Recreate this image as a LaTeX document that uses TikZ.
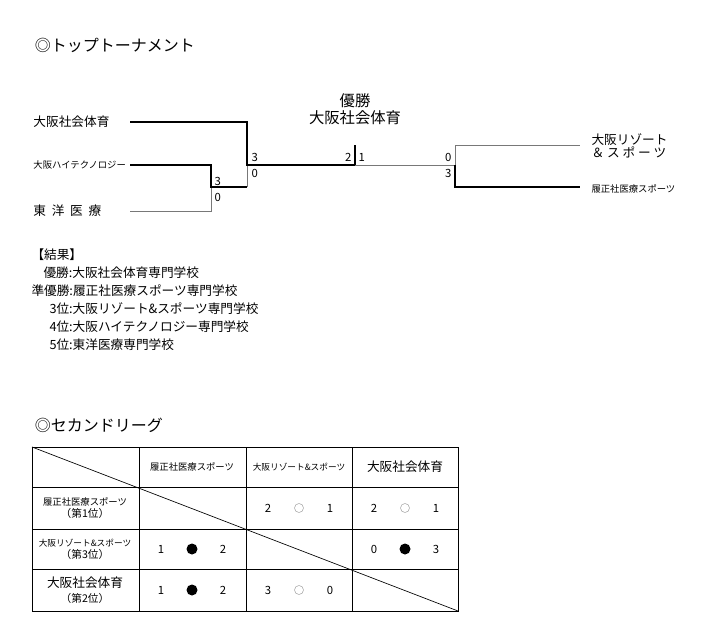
\documentclass[tikz,border=0pt]{standalone}
\usepackage{fontspec}
\setmainfont{Noto Sans CJK JP}
\tikzset{every picture/.style={line width=0.75pt}}
\tikzset{
  win/.style={line width=1.6pt},
  lose/.style={line width=0.5pt, color={rgb, 255:red, 120; green, 120; blue, 120}},
  score/.style={font=\fontsize{8.5}{9}\selectfont, inner sep=0.75pt},
  team/.style={font=\fontsize{9.5}{10}\selectfont, inner sep=0.75pt},
  smallteam/.style={font=\fontsize{7}{8}\selectfont, inner sep=0.75pt},
  cell/.style={font=\fontsize{9}{10}\selectfont, inner sep=0.75pt, align=center}
}
\begin{document}
\begin{tikzpicture}[x=0.75pt,y=0.75pt,yscale=-1,xscale=1]
\useasboundingbox (0,0) rectangle (708,639);

% Titles
\node (t1) [anchor=west, font=\fontsize{12}{13}\selectfont] at (30,45) {◎トップトーナメント};
\node (t2) [anchor=west, font=\fontsize{12}{13}\selectfont] at (30,425) {◎セカンドリーグ};

% Text Node
\node (a1) [team, anchor=west] at (32,122) {大阪社会体育};
\node (a2) [smallteam, anchor=west] at (32,165) {大阪ハイテクノロジー};
\node (a3) [team, anchor=west] at (32,211) {東\ \ 洋\ \ 医\ \ 療};
\node (b1) [team, anchor=west, align=left] at (590,146) {大阪リゾート\\＆ ス ポ ー ツ};
\node (b2) [smallteam, anchor=west] at (590,189) {履正社医療スポーツ};
\node (champ) [font=\fontsize{11.5}{13}\selectfont, align=center, anchor=south] at (355,130) {優勝\\大阪社会体育};

% Bracket lines
\draw [lose] (130,211) -- (211,211) -- (211,187);
\draw [lose] (247,187) -- (247,165);
\draw [win] (130,165) -- (211,165) -- (211,187) -- (247,187);
\draw [win] (130,122) -- (247,122) -- (247,165) -- (355,165) -- (355,145);
\draw [lose] (355,165) -- (455,165) -- (455,145) -- (580,145);
\draw [win] (455,165) -- (455,187) -- (580,187);

% Scores
\node (s1) [score, anchor=west] at (213,181) {3};
\node (s2) [score, anchor=west] at (213,197) {0};
\node (s3) [score, anchor=west] at (250,157) {3};
\node (s4) [score, anchor=west] at (250,173) {0};
\node (s5) [score, anchor=east] at (353,157) {2};
\node (s6) [score, anchor=west] at (357,157) {1};
\node (s7) [score, anchor=east] at (453,157) {0};
\node (s8) [score, anchor=east] at (453,173) {3};

% Results
\node (res) [team, anchor=west] at (30,255) {【結果】};
\foreach \r/\t/\dx [count=\i] in {優勝:/大阪社会体育専門学校/12, 準優勝:/履正社医療スポーツ専門学校/0, 3位:/大阪リゾート\&スポーツ専門学校/18, 4位:/大阪ハイテクノロジー専門学校/18, 5位:/東洋医療専門学校/18}
  \node (r\i) [team, anchor=west] at (30+\dx, 255+18*\i) {\r\t};

% League table
\draw [line width=0.5pt] (32,447) rectangle (458,611);
\foreach \x in {139,246,352} \draw [line width=0.5pt] (\x,447) -- (\x,611);
\foreach \y in {487,529,569} \draw [line width=0.5pt] (32,\y) -- (458,\y);
\draw [line width=0.5pt] (32,447) -- (458,611);

\node (h1) [smallteam] at (192,467) {履正社医療スポーツ};
\node (h2) [font=\fontsize{6.5}{8}\selectfont] at (299,467) {大阪リゾート\&スポーツ};
\node (h3) [cell, font=\fontsize{9.5}{10}\selectfont] at (405,467) {大阪社会体育};
\node (v1) [cell, font=\fontsize{7}{9}\selectfont] at (85,508) {履正社医療スポーツ\\\fontsize{8}{9}\selectfont（第1位）};
\node (v2) [cell, font=\fontsize{6.5}{9}\selectfont] at (85,549) {大阪リゾート\&スポーツ\\\fontsize{8}{9}\selectfont（第3位）};
\node (v3) [cell, font=\fontsize{9.5}{11}\selectfont] at (85,590) {大阪社会体育\\\fontsize{8}{9}\selectfont（第2位）};

\foreach \cx/\cy/\l/\rr/\w in {299/508/2/1/1, 405/508/2/1/1, 192/549/1/2/0, 405/549/0/3/0, 192/590/1/2/0, 299/590/3/0/1} {
  \node [score] at (\cx-31,\cy) {\l};
  \node [score] at (\cx+31,\cy) {\rr};
  \ifnum\w=1
    \draw [line width=0.4pt, color=gray!70] (\cx,\cy) circle (4.5);
  \else
    \fill (\cx,\cy) circle (5.5);
  \fi
}
\end{tikzpicture}
\end{document}
